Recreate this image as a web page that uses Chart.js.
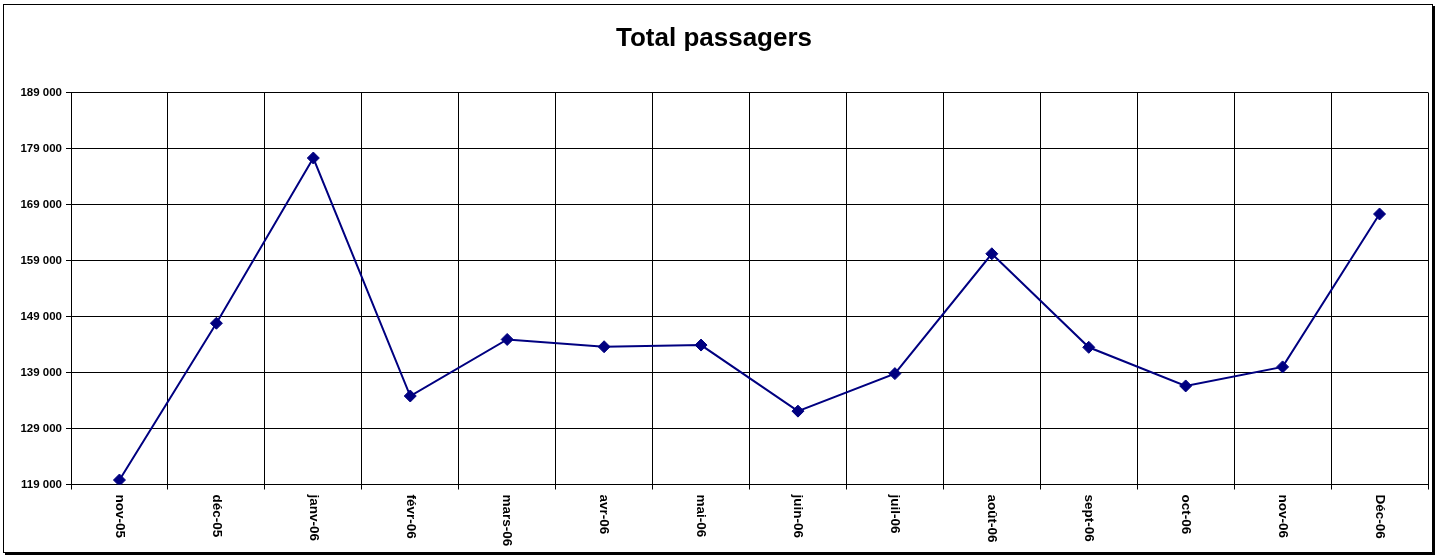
<!DOCTYPE html>
<html>
<head>
<meta charset="utf-8">
<script src="https://cdn.jsdelivr.net/npm/chart.js@4/dist/chart.umd.min.js"></script>
<style>
  body { margin: 0; background: #fff; }
  #wrap { position: relative; width: 1439px; height: 556px; }
  #frame { position: absolute; left: 3px; top: 4px; width: 1428px; height: 547px;
           border: 1px solid #000; box-shadow: 2px 2px 0 #000; pointer-events: none; }
  canvas { position: absolute; left: 0; top: 0; }
</style>
</head>
<body>
<div id="wrap">
  <canvas id="mycanvas" width="1439" height="556"></canvas>
  <div id="frame"></div>
</div>
<script>
var months = ['nov-05', 'déc-05', 'janv-06', 'févr-06', 'mars-06', 'avr-06', 'mai-06',
              'juin-06', 'juil-06', 'août-06', 'sept-06', 'oct-06', 'nov-06', 'Déc-06'];
var passagers = [119800, 147800, 177300, 134800, 144900, 143600, 143900,
                 132100, 138800, 160200, 143500, 136600, 140000, 167300];
var yMin = 119000;
var yMax = 189000;
var yStep = 10000;

/* "189000" -> "189 000" */
function fmt(v) {
  return String(v).replace(/\B(?=(\d{3})+(?!\d))/g, ' ');
}

// x labels read top to bottom, chart.js only turns them the other way
var downLabels = {
  id: 'downLabels',
  afterDraw: function(chart) {
    var ctx = chart.ctx;
    var xs = chart.scales.x;
    ctx.save();
    ctx.font = 'bold 13.5px "Liberation Sans", Arial, sans-serif';
    ctx.fillStyle = '#000';
    ctx.textAlign = 'left';
    ctx.textBaseline = 'middle';
    for (var i = 0; i < months.length; i++) {
      ctx.save();
      ctx.translate(xs.getPixelForValue(i), chart.chartArea.bottom + 10);
      ctx.rotate(Math.PI / 2);
      ctx.fillText(months[i], 0, 0);
      ctx.restore();
    }
    ctx.restore();
  }
};

var ctx = document.getElementById('mycanvas');
var chart = new Chart(ctx, {
  type: 'line',
  data: {
    labels: months,
    datasets: [{
      label: 'Total passagers',
      data: passagers,
      borderColor: '#000080',
      backgroundColor: '#000080',
      borderWidth: 2,
      fill: false,
      tension: 0,
      pointStyle: 'rectRot',
      pointRadius: 6,
      pointBorderWidth: 1,
      pointBorderColor: '#000080',
      pointBackgroundColor: '#000080'
    }]
  },
  options: {
    responsive: false,
    animation: false,
    devicePixelRatio: 1,
    layout: { padding: { left: 0, right: 11, top: 0, bottom: 0 } },
    scales: {
      x: {
        type: 'category',
        offset: true,
        grid: { offset: true, color: '#000', lineWidth: 1, drawTicks: true, tickLength: 5 },
        border: { color: '#000', width: 1 },
        ticks: { display: false },
        afterFit: function(scale) { scale.height = 71.5; }
      },
      y: {
        min: yMin,
        max: yMax,
        grid: { color: '#000', lineWidth: 1, drawTicks: true, tickLength: 5 },
        border: { color: '#000', width: 1 },
        ticks: {
          stepSize: yStep,
          padding: 4,
          color: '#000',
          font: { family: '"Liberation Sans", Arial, sans-serif', size: 11.5, weight: 'bold' },
          callback: function(v) { return fmt(v); }
        },
        afterFit: function(scale) { scale.width = 71; }
      }
    },
    plugins: {
      legend: { display: false },
      tooltip: { enabled: false },
      title: {
        display: true,
        text: 'Total passagers',
        color: '#000',
        font: { family: '"Liberation Sans", Arial, sans-serif', size: 26, weight: 'bold', lineHeight: 1.2 },
        padding: { top: 23.5, bottom: 37.8 }
      }
    }
  },
  plugins: [downLabels]
});
</script>
</body>
</html>
